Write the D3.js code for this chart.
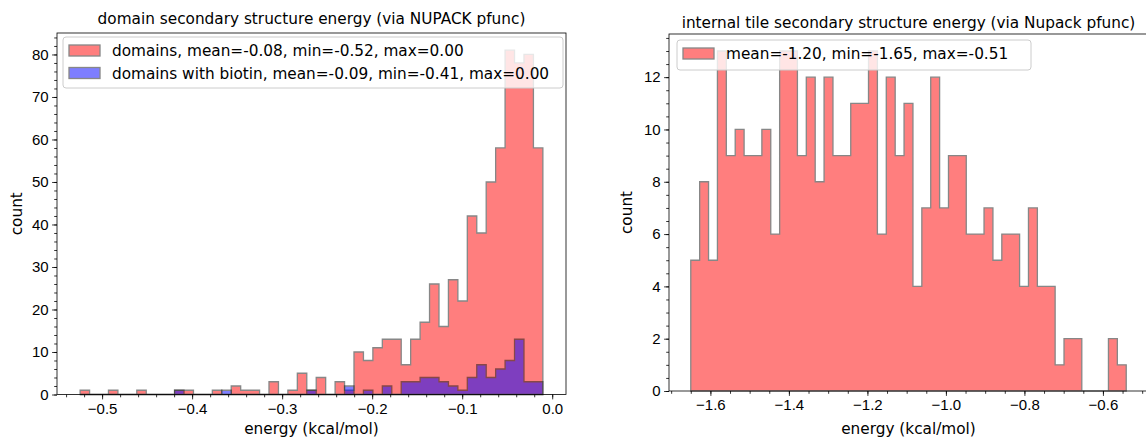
<!DOCTYPE html>
<html lang="en">
<head>
<meta charset="UTF-8">
<title>secondary structure energy histograms</title>
<style>
  body { margin: 0; background: #fff; }
  svg { display: block; font-family: "DejaVu Sans", sans-serif; }
  .tick text { font-size: 15px; fill: #000; }
  .axis path.domain { display: none; }
  .axis line { stroke: #000; stroke-width: 0.8; }
  .label { font-size: 15.3px; fill: #000; }
</style>
</head>
<body>
<svg id="chart" width="1146" height="437"></svg>
<script src="https://cdn.jsdelivr.net/npm/d3@7"></script>
<script>
// ---- data ----
// domains histogram: 49 bins starting at domainBinStart
var domainBinStart = -0.5244;
var domainBinWidth = 0.01049;
var domainCounts = [1, 0, 0, 1, 0, 0, 1, 0, 0, 0,
                    1, 1, 0, 0, 1, 0, 2, 1, 1, 0,
                    3, 0, 1, 5, 1, 4, 0, 3, 1, 10,
                    8, 11, 13, 13, 7, 13, 17, 26, 16, 27,
                    22, 42, 38, 50, 58, 81, 78, 80, 58];
var biotinCounts = [0, 0, 0, 0, 0, 0, 0, 0, 0, 0,
                    1, 0, 0, 0, 0, 1, 0, 0, 0, 0,
                    0, 0, 0, 0, 1, 0, 0, 0, 2, 0,
                    1, 0, 2, 0, 3, 3, 4, 4, 3, 2,
                    1, 4, 7, 4, 6, 8, 13, 3, 3];
var domainLegend = ["domains, mean=-0.08, min=-0.52, max=0.00",
                    "domains with biotin, mean=-0.09, min=-0.41, max=0.00"];
var domainXTicks = [-0.5, -0.4, -0.3, -0.2, -0.1, 0.0];
var domainYTicks = [0, 10, 20, 30, 40, 50, 60, 70, 80];

// internal tiles histogram
var tileBinStart = -1.65;
var tileBinWidth = 0.02264;
var tileCounts = [5, 8, 5, 13, 9, 10, 9, 9, 10, 6,
                  13, 13, 9, 12, 8, 12, 9, 9, 11, 11,
                  13, 6, 12, 9, 11, 4, 7, 12, 7, 9,
                  9, 6, 6, 7, 5, 6, 6, 4, 7, 4,
                  4, 1, 2, 2, 0, 0, 0, 2, 1];
var tileLegend = ["mean=-1.20, min=-1.65, max=-0.51"];
var tileXTicks = [-1.6, -1.4, -1.2, -1.0, -0.8, -0.6];
var tileYTicks = [0, 2, 4, 6, 8, 10, 12];

var svg = d3.select("#chart");
svg.append("rect").attr("width", 1146).attr("height", 437).attr("fill", "#fff");

function stepPoints(start, width, counts) {
  var pts = counts.map(function(c, i) { return [start + i * width, c]; });
  pts.push([start + counts.length * width, counts[counts.length - 1]]);
  return pts;
}

function minorRange(a, b, step) {
  var out = [];
  for (var i = 0; a + i * step <= b + 1e-9; i++) out.push(+(a + i * step).toFixed(4));
  return out;
}

function drawPanel(opt) {
  var x = d3.scaleLinear().domain(opt.xDomain).range([opt.left, opt.right]);
  var y = d3.scaleLinear().domain(opt.yDomain).range([opt.bottom, opt.top]);
  var g = svg.append("g");

  var area = d3.area()
    .x(function(d) { return x(d[0]); })
    .y0(y(0))
    .y1(function(d) { return y(d[1]); })
    .curve(d3.curveStepAfter);

  opt.series.forEach(function(s) {
    g.append("path")
      .datum(stepPoints(s.start, s.width, s.counts))
      .attr("d", area)
      .attr("fill", s.color)
      .attr("stroke", "#111")
      .attr("stroke-width", 1.3)
      .attr("opacity", 0.5);
  });

  // minor ticks
  g.append("g").attr("class", "axis")
    .attr("transform", "translate(0," + opt.bottom + ")")
    .call(d3.axisBottom(x).tickValues(opt.xMinor).tickSize(2.8).tickFormat(""));
  g.append("g").attr("class", "axis")
    .attr("transform", "translate(" + opt.left + ",0)")
    .call(d3.axisLeft(y).tickValues(opt.yMinor).tickSize(2.8).tickFormat(""));

  // major ticks
  g.append("g").attr("class", "axis")
    .attr("transform", "translate(0," + opt.bottom + ")")
    .call(d3.axisBottom(x).tickValues(opt.xTicks).tickSize(4.9).tickPadding(3.5)
      .tickFormat(d3.format(".1f")));
  g.append("g").attr("class", "axis")
    .attr("transform", "translate(" + opt.left + ",0)")
    .call(d3.axisLeft(y).tickValues(opt.yTicks).tickSize(4.9).tickPadding(3.5)
      .tickFormat(d3.format("d")));

  // spines
  g.append("rect")
    .attr("x", opt.left).attr("y", opt.top)
    .attr("width", opt.right - opt.left).attr("height", opt.bottom - opt.top)
    .attr("fill", "none").attr("stroke", "#000").attr("stroke-width", 0.8);

  // legend
  var lg = g.append("g");
  lg.append("rect")
    .attr("x", opt.legend.x).attr("y", opt.legend.y)
    .attr("width", opt.legend.w).attr("height", opt.legend.h)
    .attr("rx", 3)
    .attr("fill", "#fff").attr("fill-opacity", 0.8)
    .attr("stroke", "#ccc").attr("stroke-width", 1);
  opt.series.forEach(function(s, i) {
    var ry = opt.legend.y + 8 + i * 22.5;
    lg.append("rect")
      .attr("x", opt.legend.x + 6).attr("y", ry)
      .attr("width", 31).attr("height", 11)
      .attr("fill", s.color).attr("stroke", "#111").attr("stroke-width", 1.3)
      .attr("opacity", 0.5);
    lg.append("text").attr("class", "label")
      .attr("x", opt.legend.x + 49).attr("y", ry + 11)
      .text(s.name);
  });

  // titles and labels
  g.append("text").attr("class", "label")
    .attr("x", (opt.left + opt.right) / 2).attr("y", opt.titleY)
    .attr("text-anchor", "middle")
    .text(opt.title);
  g.append("text").attr("class", "label")
    .attr("x", (opt.left + opt.right) / 2).attr("y", 434)
    .attr("text-anchor", "middle")
    .text("energy (kcal/mol)");
  g.append("text").attr("class", "label")
    .attr("transform", "translate(" + opt.yLabelX + "," + ((opt.top + opt.bottom) / 2) + ") rotate(-90)")
    .attr("text-anchor", "middle")
    .text("count");
}

var domainEnd = domainBinStart + domainCounts.length * domainBinWidth;
var dMargin = 0.05 * (domainEnd - domainBinStart);

drawPanel({
  left: 57, right: 566, top: 33, bottom: 394.5,
  xDomain: [domainBinStart - dMargin, domainEnd + dMargin],
  yDomain: [0, 81 * 1.05],
  xTicks: domainXTicks,
  xMinor: minorRange(-0.54, 0.0, 0.02),
  yTicks: domainYTicks,
  yMinor: minorRange(0, 84, 2),
  series: [
    {name: domainLegend[0], start: domainBinStart, width: domainBinWidth, counts: domainCounts, color: "#ff0000"},
    {name: domainLegend[1], start: domainBinStart, width: domainBinWidth, counts: biotinCounts, color: "#0000ff"}
  ],
  legend: {x: 63, y: 37, w: 500, h: 51},
  title: "domain secondary structure energy (via NUPACK pfunc)",
  titleY: 23.5,
  yLabelX: 22
});

var tileEnd = tileBinStart + tileCounts.length * tileBinWidth;
var tMargin = 0.05 * (tileEnd - tileBinStart);

drawPanel({
  left: 669, right: 1148, top: 34, bottom: 391,
  xDomain: [tileBinStart - tMargin, tileEnd + tMargin],
  yDomain: [0, 13 * 1.05],
  xTicks: tileXTicks,
  xMinor: minorRange(-1.7, -0.5, 0.05),
  yTicks: tileYTicks,
  yMinor: minorRange(0, 13.5, 0.5),
  series: [
    {name: tileLegend[0], start: tileBinStart, width: tileBinWidth, counts: tileCounts, color: "#ff0000"}
  ],
  legend: {x: 677, y: 40, w: 354, h: 30},
  title: "internal tile secondary structure energy (via Nupack pfunc)",
  titleY: 27.5,
  yLabelX: 632
});
</script>
</body>
</html>
